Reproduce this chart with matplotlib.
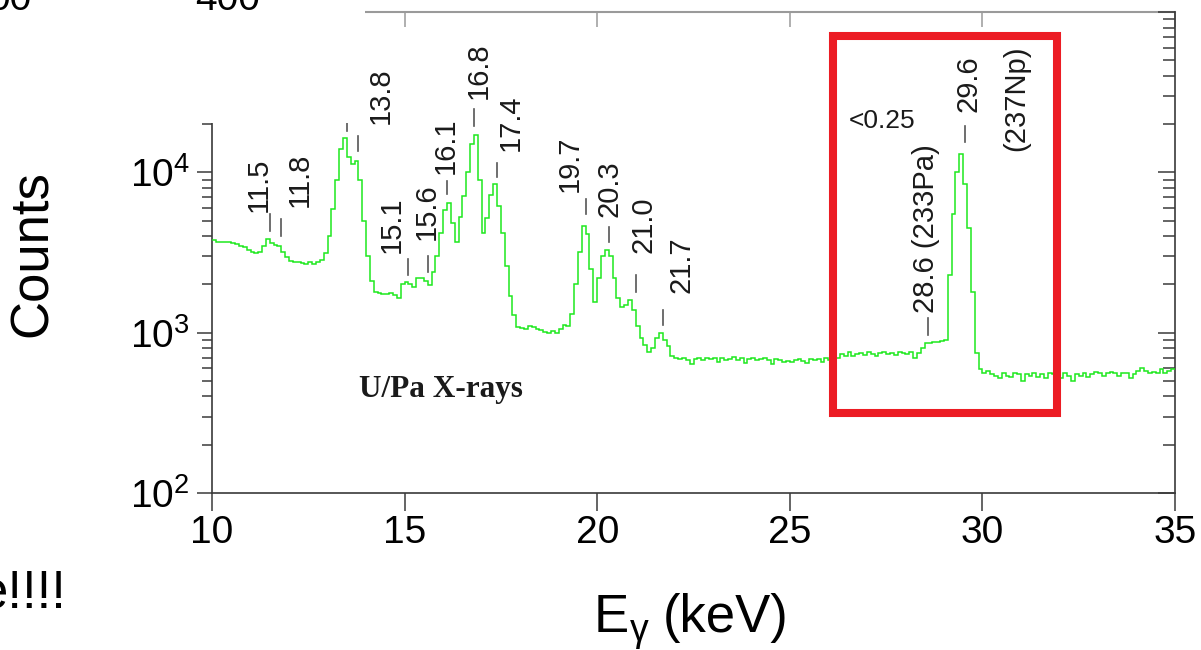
import matplotlib.pyplot as plt
import numpy as np
from matplotlib.patches import Rectangle
from matplotlib.ticker import NullFormatter

plt.rcParams['font.family'] = ['Liberation Sans', 'DejaVu Sans']
plt.rcParams['mathtext.default'] = 'regular'

# gamma spectrum, 0.1 keV channels starting at 10.0 keV
e_first = 10.0
channel_width = 0.1
counts = [
    3780, 3700, 3660, 3680, 3660, 3640, 3560, 3460, 3420, 3300,   # 10
    3180, 3160, 3200, 3450, 3830, 3620, 3500, 3480, 3200, 2950,   # 11
    2800, 2740, 2760, 2720, 2700, 2740, 2700, 2760, 2850, 3150,   # 12
    4000, 5900, 9000, 14000, 16400, 12500, 11200, 11800, 9000, 5000,  # 13
    3000, 2100, 1800, 1760, 1750, 1740, 1760, 1720, 1650, 2000,   # 14
    2060, 2000, 1920, 2180, 2200, 2100, 1980, 2400, 3000, 4200,   # 15
    5860, 6400, 4800, 3700, 5300, 7100, 10000, 15000, 17200, 9000,  # 16
    4200, 5200, 7200, 8400, 6200, 4200, 2600, 1700, 1280, 1080,   # 17
    1070, 1060, 1100, 1080, 1060, 1040, 1010, 1000, 1020, 990,    # 18
    1060, 1110, 1100, 1300, 2000, 3200, 4600, 4100, 2500, 1560,   # 19
    2200, 3000, 3300, 3000, 2200, 1650, 1450, 1480, 1600, 1380,   # 20
    1100, 920, 840, 760, 800, 930, 1000, 900, 820, 720,           # 21
    700, 690, 700, 680, 640, 690, 700, 680, 700, 690,             # 22
    700, 660, 700, 680, 690, 710, 680, 700, 650, 690,             # 23
    700, 680, 690, 700, 680, 640, 690, 680, 660, 670,             # 24
    660, 680, 690, 670, 650, 690, 680, 690, 660, 700,             # 25
    680, 730, 700, 740, 720, 760, 720, 740, 750, 730,             # 26
    760, 740, 720, 750, 760, 740, 750, 730, 760, 750,             # 27
    740, 760, 700, 750, 800, 860, 860, 870, 880, 890,             # 28
    900, 2300, 5500, 10000, 13000, 8500, 4500, 1800, 750, 590,    # 29
    560, 580, 550, 540, 520, 560, 540, 530, 560, 550,             # 30
    500, 550, 540, 560, 530, 550, 520, 560, 550, 540,             # 31
    520, 560, 540, 500, 550, 540, 560, 530, 550, 570,             # 32
    560, 540, 560, 570, 560, 540, 560, 560, 520, 550,             # 33
    580, 600, 580, 560, 570, 560, 590, 560, 580, 590,             # 34
]

# peak markers: energy of the dash, dash extent (counts)
dash_energy = [11.5, 11.8, 13.5, 13.8, 15.1, 15.6, 16.1, 16.8, 17.4,
               19.7, 20.3, 21.0, 21.7, 28.6, 29.55]
dash_low = [4280, 3980, 18000, 13500, 2300, 2400, 7290, 19400, 9300,
            5460, 3700, 1800, 1120, 970, 15400]
dash_high = [5460, 5080, 22400, 16800, 2860, 2990, 8790, 24750, 11500,
             6780, 4530, 2300, 1390, 1240, 19400]

# rotated peak labels: text, x (keV), bottom (counts)
label_text = ['11.5', '11.8', '13.8', '15.1', '15.6', '16.1', '16.8', '17.4',
              '19.7', '20.3', '21.0', '21.7', '28.6 (233Pa)', '29.6', '(237Np)']
label_x = [11.22, 12.28, 14.39, 14.67, 15.58, 16.07, 16.93, 17.76,
           19.29, 20.31, 21.19, 22.18, 28.54, 29.63, 30.87]
label_y = [5620, 6040, 19950, 3160, 3810, 9720, 28600, 13500,
           7500, 5230, 3160, 1780, 1330, 23700, 13500]

W, H = 1201, 650
fig = plt.figure(figsize=(W / 100, H / 100), dpi=100)
ax = fig.add_axes([212 / W, 1 - 493 / H, (1175 - 212) / W, (493 - 12) / H])

edges = e_first + channel_width * np.arange(len(counts) + 1)
ax.stairs(counts, edges, baseline=None, color='#1ee81e', lw=1.1, zorder=3)

ax.set_xlim(10, 35)
ax.set_yscale('log')
ax.set_ylim(100, 1e5)
ax.set_xticks([10, 15, 20, 25, 30, 35])
ax.set_yticks([1e2, 1e3, 1e4])
ax.yaxis.set_minor_formatter(NullFormatter())

axis_col = '#3a3a3a'
ax.tick_params(axis='x', which='major', direction='out', length=13, width=1.1,
               pad=3, labelsize=28, color=axis_col)
ax.tick_params(axis='x', which='minor', bottom=False)
ax.tick_params(axis='y', which='major', direction='out', length=11, width=1.1,
               pad=5, labelsize=28, color=axis_col)
ax.tick_params(axis='y', which='minor', direction='out', length=7, width=1.1,
               color=axis_col)
for s in ['left', 'bottom']:
    ax.spines[s].set_color(axis_col)
    ax.spines[s].set_linewidth(1.2)
ax.spines['top'].set_visible(False)
ax.spines['right'].set_visible(False)

top = ax.secondary_xaxis('top')
top.set_xticks([10, 15, 20, 25, 30, 35])
top.tick_params(axis='x', direction='in', length=11, width=1.1,
                color='#9a9a9a', labeltop=False)
top.spines['top'].set_color('#9a9a9a')
top.spines['top'].set_linewidth(1.5)

right = ax.secondary_yaxis('right')
right.tick_params(axis='y', which='major', direction='in', length=12.5,
                  width=1.1, color=axis_col, labelright=False)
right.tick_params(axis='y', which='minor', direction='in', length=8.5,
                  width=1.1, color=axis_col, labelright=False)
right.spines['right'].set_color(axis_col)
right.spines['right'].set_linewidth(1.2)

# peak dashes and labels
for e, lo, hi in zip(dash_energy, dash_low, dash_high):
    ax.plot([e, e], [lo, hi], color='#555555', lw=1.2, zorder=4)
for t, x, y in zip(label_text, label_x, label_y):
    ax.text(x, y, t, rotation=90, ha='center', va='bottom', fontsize=21,
            color='#1a1a1a', zorder=4)

ax.text(27.4, 20800, '<0.25', ha='center', va='center', fontsize=19,
        color='#1a1a1a')
ax.text(15.95, 440, 'U/Pa X-rays', ha='center', va='center', fontsize=22.5,
        family='Liberation Serif', fontweight='bold', color='#1a1a1a')

# red highlight box around the Np region
ax.add_patch(Rectangle((26.13, 314), 31.94 - 26.13, 70800 - 314, fill=False,
                       edgecolor='#ec1c24', lw=5.8, zorder=6, clip_on=False))

# axis titles
fig.text(33 / W, 1 - 254 / H, 'Counts', rotation=90, ha='center',
         va='center', fontsize=38)
fig.text(594 / W, 1 - 632 / H, 'E', ha='left', va='baseline', fontsize=38)
fig.text(630 / W, 1 - 641 / H, 'γ', ha='left', va='baseline', fontsize=27)
fig.text(663 / W, 1 - 632 / H, '(keV)', ha='left', va='baseline', fontsize=38)

# slide elements overlapping the plot
fig.add_artist(Rectangle((0, 1 - 123 / H), 365 / W, 123 / H,
                         transform=fig.transFigure, facecolor='white',
                         edgecolor='none', zorder=5))
fig.text(32 / W, 1 - 10 / H, '00', ha='right', va='baseline', fontsize=28,
         zorder=6)
fig.text(260 / W, 1 - 10 / H, '400', ha='right', va='baseline', fontsize=28,
         zorder=6)
fig.text(67 / W, 1 - 607 / H, 'e!!!!', ha='right', va='baseline',
         fontsize=38, zorder=6)

plt.savefig('out.png', dpi=100)
